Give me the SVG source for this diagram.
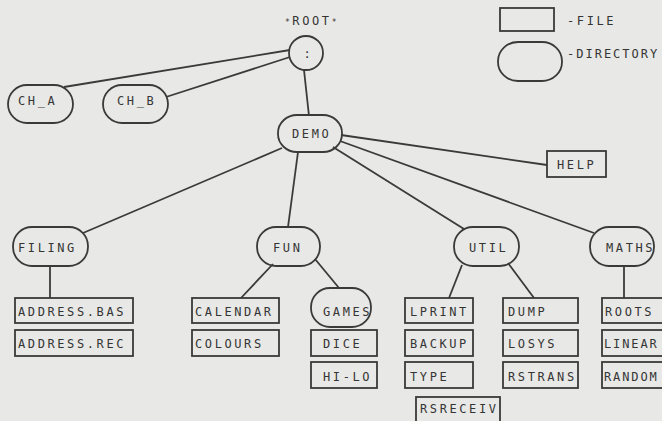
<svg xmlns="http://www.w3.org/2000/svg" width="662" height="421" viewBox="0 0 662 421">
<style>
.f{fill:none;stroke:#3a3a3a;stroke-width:1.8}
.d{fill:none;stroke:#3a3a3a;stroke-width:1.8}
text{font-family:"DejaVu Sans Mono","Liberation Mono",monospace;font-size:12px;letter-spacing:2.6px;fill:#353535}
.c{text-anchor:middle}
.n{letter-spacing:1.9px}
#edges line{stroke:#3a3a3a;stroke-width:1.8}
</style>
<rect width="662" height="421" fill="#e8e8e6"/>
<g id="legend">
<rect class="f" x="500" y="8" width="54" height="23"/>
<text x="567" y="25">-FILE</text>
<rect class="d" x="498" y="42" width="64" height="39" rx="20" ry="19"/>
<text x="567" y="58" style="letter-spacing:2px">-DIRECTORY</text>
</g>
<g id="edges">
<line x1="290" y1="50" x2="64" y2="87"/>
<line x1="290" y1="57" x2="166" y2="97"/>
<line x1="304" y1="70" x2="309" y2="116"/>
<line x1="341" y1="135" x2="547" y2="165"/>
<line x1="282" y1="148" x2="83" y2="233"/>
<line x1="298" y1="152" x2="288" y2="227"/>
<line x1="333" y1="147" x2="464" y2="229"/>
<line x1="340" y1="141" x2="594" y2="233"/>
<line x1="50" y1="266" x2="50" y2="298"/>
<line x1="273" y1="264" x2="241" y2="298"/>
<line x1="315" y1="259" x2="339" y2="288"/>
<line x1="462" y1="265" x2="449" y2="298"/>
<line x1="508" y1="263" x2="534" y2="298"/>
<line x1="624" y1="266" x2="624" y2="298"/>
</g>
<g id="root">
<text class="c" x="312" y="25"><tspan font-size="8">*</tspan>ROOT<tspan font-size="8">*</tspan></text>
<circle class="d" cx="306" cy="53" r="17"/>
<text class="c" x="307" y="58" style="letter-spacing:0">:</text>
</g>
<g id="ch_a"><rect class="d" x="8" y="85" width="65" height="38" rx="19" ry="19"/><text x="18" y="105">CH_A</text></g>
<g id="ch_b"><rect class="d" x="103" y="85" width="65" height="38" rx="19" ry="19"/><text x="117" y="105">CH_B</text></g>
<g id="demo"><rect class="d" x="278" y="115" width="64" height="37" rx="19" ry="18"/><text x="292" y="138">DEMO</text></g>
<g id="help"><rect class="f" x="547" y="151" width="59" height="26"/><text x="557" y="169">HELP</text></g>
<g id="filing"><rect class="d" x="13" y="227" width="75" height="39" rx="19" ry="19"/><text x="18" y="252">FILING</text></g>
<g id="fun"><rect class="d" x="257" y="227" width="63" height="39" rx="19" ry="19"/><text x="273" y="252">FUN</text></g>
<g id="util"><rect class="d" x="454" y="227" width="65" height="39" rx="19" ry="19"/><text x="469" y="252">UTIL</text></g>
<g id="maths"><rect class="d" x="590" y="227" width="64" height="39" rx="19" ry="19"/><text x="606" y="252">MATHS</text></g>
<g id="address_bas"><rect class="f" x="15" y="298" width="118" height="25"/><text x="18" y="316">ADDRESS.BAS</text></g>
<g id="address_rec"><rect class="f" x="15" y="330" width="118" height="26"/><text x="18" y="348">ADDRESS.REC</text></g>
<g id="calendar"><rect class="f" x="192" y="298" width="87" height="25"/><text x="195" y="316">CALENDAR</text></g>
<g id="colours"><rect class="f" x="192" y="330" width="87" height="26"/><text x="195" y="348">COLOURS</text></g>
<g id="games"><rect class="d" x="311" y="288" width="60" height="39" rx="19" ry="19"/><text x="323" y="316">GAMES</text></g>
<g id="dice"><rect class="f" x="311" y="330" width="66" height="26"/><text x="323" y="348">DICE</text></g>
<g id="hi_lo"><rect class="f" x="311" y="362" width="66" height="26"/><text x="323" y="381">HI-LO</text></g>
<g id="lprint"><rect class="f" x="405" y="298" width="68" height="25"/><text x="410" y="316">LPRINT</text></g>
<g id="backup"><rect class="f" x="405" y="330" width="68" height="26"/><text x="410" y="348">BACKUP</text></g>
<g id="type"><rect class="f" x="405" y="362" width="68" height="26"/><text x="410" y="381">TYPE</text></g>
<g id="rsreceiv"><rect class="f" x="416" y="397" width="84" height="25"/><text x="420" y="413">RSRECEIV</text></g>
<g id="dump"><rect class="f" x="503" y="298" width="75" height="25"/><text x="508" y="316">DUMP</text></g>
<g id="losys"><rect class="f" x="503" y="330" width="75" height="26"/><text x="508" y="348">LOSYS</text></g>
<g id="rstrans"><rect class="f" x="503" y="362" width="75" height="26"/><text x="508" y="381">RSTRANS</text></g>
<g id="roots"><rect class="f" x="602" y="298" width="66" height="25"/><text x="605" y="316">ROOTS</text></g>
<g id="linear"><rect class="f" x="602" y="330" width="66" height="26"/><text class="n" x="604" y="348">LINEAR</text></g>
<g id="random"><rect class="f" x="602" y="362" width="66" height="26"/><text class="n" x="604" y="381">RANDOM</text></g>
</svg>
